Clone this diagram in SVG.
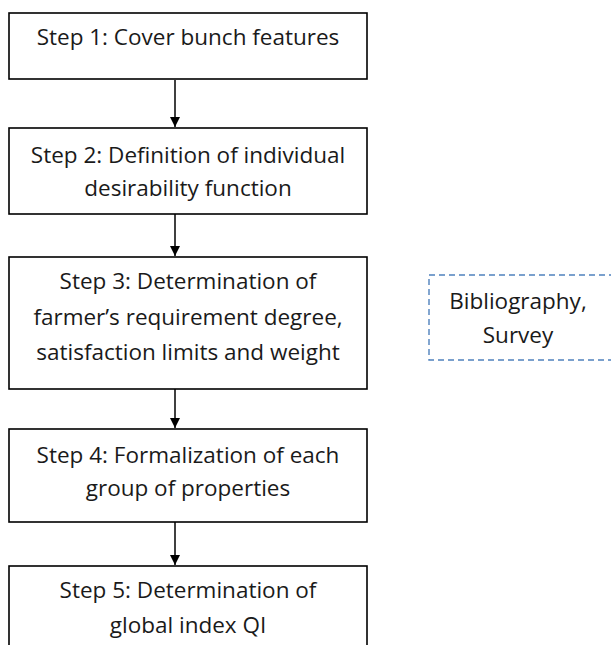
<svg xmlns="http://www.w3.org/2000/svg" width="611" height="645" viewBox="0 0 611 645">
  <defs>
    <marker id="arrow" markerWidth="10" markerHeight="10" refX="10" refY="5" orient="auto" markerUnits="userSpaceOnUse">
      <path d="M0,0 L10,5 L0,10 Z" fill="#000"/>
    </marker>
    <style>
      .box { fill: #fff; stroke: #000; stroke-width: 1.6; }
      .dash { fill: none; stroke: #4f81bd; stroke-width: 1.4; stroke-dasharray: 6 4; }
      .lbl { font-family: "Open Sans", "Liberation Sans", Arial, sans-serif; font-size: 22.5px; fill: #1a1a1a; text-anchor: middle; }
      .conn { stroke: #000; stroke-width: 1.5; fill: none; }
    </style>
  </defs>
  <rect width="611" height="645" fill="#fff"/>

  <g id="connectors">
    <line class="conn" x1="175" y1="80" x2="175" y2="127" marker-end="url(#arrow)"/>
    <line class="conn" x1="175" y1="214" x2="175" y2="256" marker-end="url(#arrow)"/>
    <line class="conn" x1="175" y1="389" x2="175" y2="428" marker-end="url(#arrow)"/>
    <line class="conn" x1="175" y1="522" x2="175" y2="565" marker-end="url(#arrow)"/>
  </g>

  <g id="step1">
    <rect class="box" x="9" y="13" width="358" height="66"/>
    <text class="lbl" x="188" y="45">Step 1: Cover bunch features</text>
  </g>
  <g id="step2">
    <rect class="box" x="9" y="128" width="358" height="86"/>
    <text class="lbl" x="188" y="163">Step 2: Definition of individual</text>
    <text class="lbl" x="188" y="196">desirability function</text>
  </g>
  <g id="step3">
    <rect class="box" x="9" y="257" width="358" height="132"/>
    <text class="lbl" x="188" y="289">Step 3: Determination of</text>
    <text class="lbl" x="188" y="325">farmer’s requirement degree,</text>
    <text class="lbl" x="188" y="360">satisfaction limits and weight</text>
  </g>
  <g id="step4">
    <rect class="box" x="9" y="429" width="358" height="93"/>
    <text class="lbl" x="188" y="463">Step 4: Formalization of each</text>
    <text class="lbl" x="188" y="496">group of properties</text>
  </g>
  <g id="step5">
    <rect class="box" x="9" y="566" width="358" height="100"/>
    <text class="lbl" x="188" y="598">Step 5: Determination of</text>
    <text class="lbl" x="188" y="633">global index QI</text>
  </g>
  <g id="sources">
    <rect class="dash" x="429" y="275" width="200" height="85"/>
    <text class="lbl" x="518" y="309">Bibliography,</text>
    <text class="lbl" x="518" y="343">Survey</text>
  </g>
</svg>
